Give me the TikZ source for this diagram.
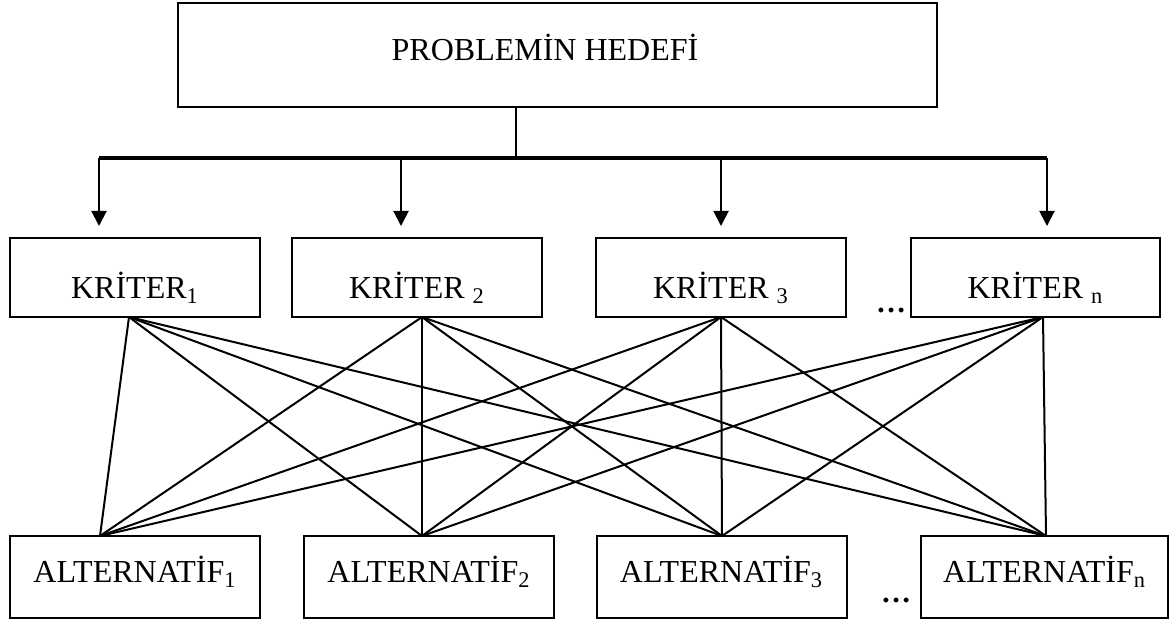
\documentclass[tikz,border=0pt]{standalone}
\usepackage{fontspec}
\setmainfont{Liberation Serif}
\usetikzlibrary{arrows.meta}

\tikzset{
	box/.style={draw,line width=1pt,inner sep=0pt,font=\fontsize{16}{19}\selectfont},
	kbox/.style={box,minimum width=125pt,minimum height=39.5pt,text height=21pt,text depth=0.5pt},
	abox/.style={box,minimum width=125pt,minimum height=41pt,text height=11pt,text depth=6pt},
	dots/.style={anchor=base,inner sep=0pt,font=\fontsize{15}{18}\selectfont\bfseries},
	link/.style={line width=1pt},
	down/.style={line width=1pt,-{Triangle[width=7.5pt,length=7.5pt]}}
}

\begin{document}
\begin{tikzpicture}[x=.5pt,y=-.5pt]
\useasboundingbox (0,0) rectangle (1171,620);
% goal
\node[box,minimum width=379.5pt,minimum height=52pt] (goal) at (557.5,55) {};
\node[anchor=base,font=\fontsize{16}{19}\selectfont] (goaltext) at (545,61) {PROBLEMİN HEDEFİ};
\coordinate (gs) at (516,107);
\coordinate (gb) at (516,158);
\draw[line width=.8pt] (gs)--(gb);
\coordinate (b1) at (99,158);
\coordinate (b2) at (401,158);
\coordinate (b3) at (721,158);
\coordinate (b4) at (1047,158);
\draw[line width=1.6pt] (b1)--(b4);
\coordinate (t1) at (99,226);
\coordinate (t2) at (401,226);
\coordinate (t3) at (721,226);
\coordinate (t4) at (1047,226);
\foreach \i in {1,...,4}
	\draw[down] (b\i)--(t\i);
% criteria
\node[kbox] (k1) at (135,277.5) {KRİTER\textsubscript{1}};
\node[kbox] (k2) at (417,277.5) {KRİTER \textsubscript{2}};
\node[kbox] (k3) at (721,277.5) {KRİTER \textsubscript{3}};
\node[kbox,minimum width=124.5pt] (k4) at (1035.5,277.5) {KRİTER \textsubscript{n}};
\node[dots] (kdots) at (891,312) {\ldots};
% alternatives
\node[abox] (a1) at (135,577) {ALTERNATİF\textsubscript{1}};
\node[abox] (a2) at (429,577) {ALTERNATİF\textsubscript{2}};
\node[abox] (a3) at (721.5,577) {ALTERNATİF\textsubscript{3}};
\node[abox,minimum width=123.5pt] (a4) at (1044.5,577) {ALTERNATİF\textsubscript{n}};
\node[dots] (adots) at (896,602) {\ldots};
% links
\coordinate (kp1) at (129,317);
\coordinate (kp2) at (422,317);
\coordinate (kp3) at (721,317);
\coordinate (kp4) at (1043,317);
\coordinate (ap1) at (100,536);
\coordinate (ap2) at (422,536);
\coordinate (ap3) at (722,536);
\coordinate (ap4) at (1046,536);
\foreach \i in {1,...,4}
	\foreach \j in {1,...,4}
		\draw[link] (kp\i)--(ap\j);
\end{tikzpicture}
\end{document}
